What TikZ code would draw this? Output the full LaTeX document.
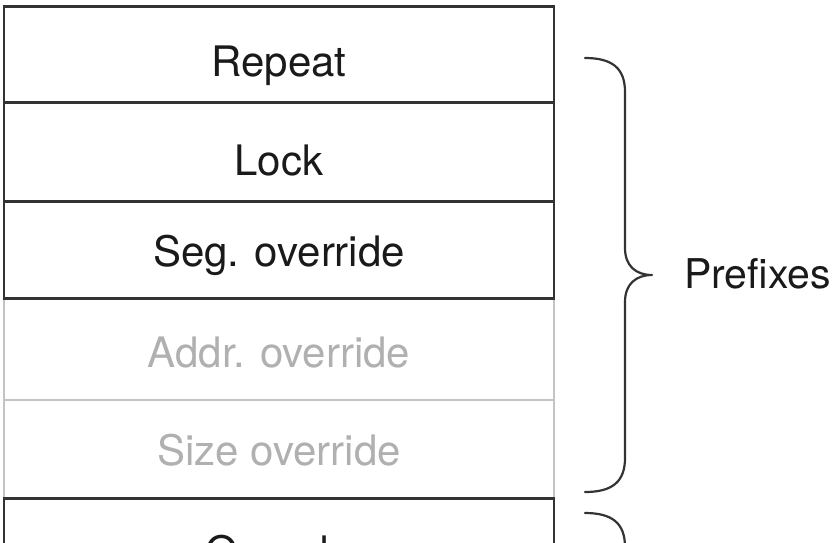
\documentclass[tikz,border=0pt]{standalone}
\usepackage{fontspec}
\setmainfont{TeX Gyre Heros}
\definecolor{darkline}{HTML}{333333}
\definecolor{darktext}{HTML}{1A1A1A}
\definecolor{lightline}{HTML}{C4C4C4}
\definecolor{lighttext}{HTML}{B0B0B0}
\tikzset{
  field/.style={anchor=north, inner sep=0pt, minimum width=550pt,
    font=\fontsize{42}{50}\selectfont},
  strong/.style={field, draw=darkline, line width=2.7pt, text=darktext},
  faint/.style={field, draw=lightline, line width=1.5pt, text=lighttext},
  brace/.style={draw=darkline, line width=2.2pt, line cap=round, line join=round},
  side/.style={inner sep=0pt, anchor=base west, text=darktext, font=\fontsize{41}{50}\selectfont}
}
\begin{document}
\begin{tikzpicture}[x=1pt,y=-1pt]
\useasboundingbox (0,0) rectangle (838,542);
\fill[white] (0,0) rectangle (838,542);
\begin{scope}
\clip (0,0) rectangle (838,542);
% faint boxes
\node[faint, text height=70pt, text depth=32pt] (addr) at (279,297) {Addr. override};
\node[faint, text height=66pt, text depth=32pt] (size) at (279,399) {Size override};
% strong boxes
\node[strong, text height=70pt, text depth=26pt] (repeat) at (279,5) {Repeat};
\node[strong, text height=73pt, text depth=26pt] (lock) at (279,101) {Lock};
\node[strong, text height=65pt, text depth=32pt] (seg) at (279,200) {Seg. override};
\node[strong, text height=68pt, text depth=30pt] (opcode) at (279,497) {Opcode};
% prefix brace
\coordinate (b1) at (585,58);
\coordinate (b2) at (652,275);
\coordinate (b3) at (585,492);
\draw[brace] (b1) .. controls (612,58) and (625,68) .. (625,92)
  -- (625,248) .. controls (625,266) and (636,275) .. (b2)
  .. controls (636,275) and (625,284) .. (625,302)
  -- (625,458) .. controls (625,482) and (612,492) .. (b3);
\node[side] (prefixes) at (684,288) {Prefixes};
% next brace (cut off)
\coordinate (c1) at (585,513);
\draw[brace] (c1) .. controls (612,513) and (625,523) .. (625,547) -- (625,600);
\end{scope}
\end{tikzpicture}
\end{document}
